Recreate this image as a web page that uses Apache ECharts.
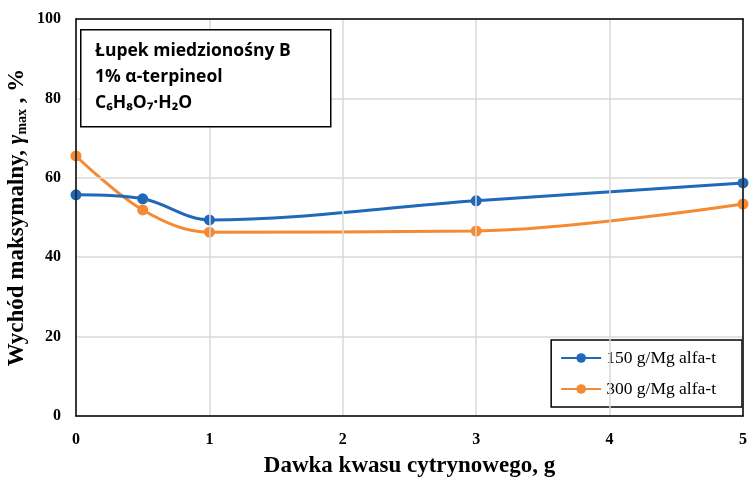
<!DOCTYPE html>
<html><head><meta charset="utf-8">
<script src="https://cdn.jsdelivr.net/npm/echarts@6/dist/echarts.min.js"></script>
<style>html,body{margin:0;padding:0;background:#fff}#c{width:749px;height:480px}</style>
</head><body><div id="c"></div>
<script>
const xValues = [0, 0.5, 1, 3, 5];
const series150 = [55.7, 54.7, 49.4, 54.2, 58.7];
const series300 = [65.5, 51.9, 46.3, 46.6, 53.4];
const seriesNames = ['150 g/Mg alfa-t', '300 g/Mg alfa-t'];
const annotationLines = ['Łupek miedzionośny B', '1% α-terpineol', 'C₆H₈O₇·H₂O'];
const xTitle = 'Dawka kwasu cytrynowego, g';

const chart = echarts.init(document.getElementById('c'));
const serif = '"Liberation Serif", "Times New Roman", serif';
const pair = (xs, ys) => xs.map((x, i) => [x, ys[i]]);
const frameAxis = {axisLine: {show: true, onZero: false, lineStyle: {color: '#000', width: 1.5}}, axisTick: {show: false}, axisLabel: {show: false}, splitLine: {show: false}};
chart.setOption({
  animation: false,
  grid: {left: 76, right: 6, top: 19, bottom: 64, outerBoundsMode: 'none', containLabel: false},
  xAxis: [{
    type: 'value', min: 0, max: 5, interval: 1,
    name: xTitle, nameLocation: 'middle', nameGap: 39, nameMoveOverlap: false,
    nameTextStyle: {fontFamily: serif, fontWeight: 'bold', fontSize: 23, color: '#000'},
    axisLine: {show: true, onZero: false, lineStyle: {color: '#000', width: 1.5}}, axisTick: {show: false},
    axisLabel: {fontFamily: serif, fontWeight: 'bold', fontSize: 16, color: '#000', margin: 16},
    splitLine: {show: true, lineStyle: {color: '#d9d9d9', width: 1.5}}, z: 5
  }, Object.assign({type: 'value', min: 0, max: 5, position: 'top', z: 5}, frameAxis)],
  yAxis: [{
    type: 'value', min: 0, max: 100, interval: 20,
    name: 'Wychód maksymalny, {g|γ}{s|max}{n| , %}', nameLocation: 'middle', nameGap: 47, nameRotate: 90, nameMoveOverlap: false,
    nameTextStyle: {fontFamily: serif, fontWeight: 'bold', fontSize: 23, color: '#000',
      rich: {
        g: {fontFamily: serif, fontStyle: 'italic', fontWeight: 'bold', fontSize: 23, color: '#000'},
        s: {fontFamily: serif, fontWeight: 'bold', fontSize: 14, color: '#000', verticalAlign: 'bottom', padding: [9, 0, 0, 0]},
        n: {fontFamily: serif, fontWeight: 'bold', fontSize: 23, color: '#000'}
      }},
    axisLine: {show: true, onZero: false, lineStyle: {color: '#000', width: 1.5}}, axisTick: {show: false},
    axisLabel: {fontFamily: serif, fontWeight: 'bold', fontSize: 16, color: '#000', margin: 15},
    splitLine: {show: true, lineStyle: {color: '#d9d9d9', width: 1.5}}, z: 5
  }, Object.assign({type: 'value', min: 0, max: 100, position: 'right', z: 5}, frameAxis)],
  legend: {
    orient: 'vertical', right: 7, bottom: 73,
    backgroundColor: '#fff', borderColor: '#000', borderWidth: 1.5,
    padding: [9, 26, 9, 9], itemGap: 13, itemWidth: 40, itemHeight: 12,
    textStyle: {fontFamily: serif, fontSize: 17.5, color: '#000'},
    data: seriesNames
  },
  series: [
    {name: seriesNames[0], type: 'line', data: pair(xValues, series150), smooth: 0.35,
     symbol: 'circle', symbolSize: 11, lineStyle: {width: 3, color: '#2068B8'}, itemStyle: {color: '#2068B8'}, z: 3},
    {name: seriesNames[1], type: 'line', data: pair(xValues, series300), smooth: 0.35,
     symbol: 'circle', symbolSize: 11, lineStyle: {width: 3, color: '#F58A33'}, itemStyle: {color: '#F58A33'}, z: 2}
  ],
  graphic: [
    {type: 'rect', left: 80, top: 29, shape: {width: 250, height: 97}, style: {fill: '#fff', stroke: '#000', lineWidth: 1.5}, z: 10},
    {type: 'text', left: 95, top: 38, style: {text: annotationLines.join('\n'), font: 'bold 17.5px "Open Sans", sans-serif', lineHeight: 26, fill: '#000'}, z: 11}
  ]
});
</script></body></html>
